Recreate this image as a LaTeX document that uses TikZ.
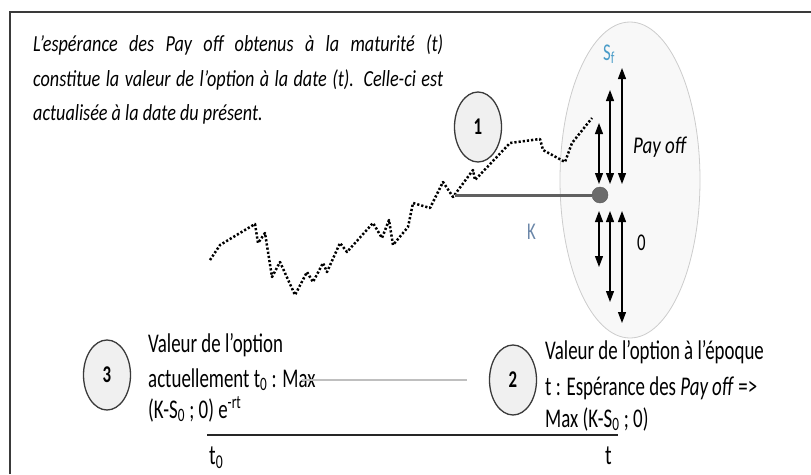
\documentclass[tikz,border=0pt]{standalone}
\usepackage{fontspec}
\setmainfont{Carlito}[FakeStretch=0.7]
\newfontfamily\topfnt{Carlito}[FakeStretch=0.79]
\usetikzlibrary{arrows.meta,shapes.geometric}
\definecolor{sfblue}{HTML}{4A9CC8}
\definecolor{kblue}{HTML}{6A86A8}
\definecolor{lightfill}{HTML}{F0F0F0}
\definecolor{ellfill}{HTML}{F8F8F8}
\definecolor{darkline}{HTML}{3A3A3A}
\tikzset{
  frame/.style={draw=darkline, line width=1.6pt},
  numcirc/.style={ellipse, draw=darkline, line width=1.3pt, fill=lightfill, minimum width=47pt, minimum height=70pt, inner sep=0pt, font=\fontsize{24}{24}\selectfont\bfseries},
  bigell/.style={ellipse, draw=gray!40, line width=0.8pt, fill=ellfill, minimum width=140pt, minimum height=316pt, inner sep=0pt},
  kdot/.style={circle, fill=gray!85!black, draw=gray!70!black, minimum size=16pt, inner sep=0pt},
  kline/.style={draw=gray!75!black, line width=3pt},
  dbl/.style={line width=1.2pt, {Triangle[width=8pt,length=11pt]}-{Triangle[width=8pt,length=11pt]}},
  walk/.style={line width=2.5pt, dash pattern=on 2.2pt off 2pt, line join=round},
  toptext/.style={anchor=base west, inner sep=0pt, font=\topfnt\fontsize{23}{26}\selectfont\itshape},
  bottext/.style={anchor=base west, inner sep=0pt, font=\fontsize{27}{29}\selectfont},
  grayline/.style={draw=gray!50, line width=1.4pt},
  axis/.style={draw=black!85, line width=2pt}
}
\begin{document}
\begin{tikzpicture}[x=1pt,y=-1pt]
\useasboundingbox (0,0) rectangle (811,474);
\clip (0,0) rectangle (811,474);
% frame
\coordinate (fr1) at (10,474);
\coordinate (fr2) at (10,12);
\coordinate (fr3) at (812,12);
\draw[frame] (fr1) -- (fr2) -- (fr3);

% top text
\node[toptext] (tt1) at (33,51) {\makebox[410pt][s]{L’espérance des Pay off obtenus à la maturité (t)}};
\node[toptext] (tt2) at (33,86) {\makebox[410pt][s]{constitue la valeur de l’option à la date (t). Celle-ci est}};
\node[toptext] (tt3) at (33,120) {actualisée à la date du présent.};

% big ellipse
\node[bigell] (E) at (630,180) {};

% random walk
\draw[walk] plot coordinates {(210,260) (220,245) (255,224) (258,243) (265,233) (272,277) (280,262) (295,295) (307,272) (313,282) (323,263) (327,272) (340,243) (347,252) (373,223) (382,238) (389,220) (393,245) (408,227) (413,203) (430,208) (443,182) (453,197) (473,170) (475,180) (510,143) (540,139) (543,150) (565,162) (572,143) (592,118)};

% circle 1
\node[numcirc] (c1) at (478,127) {1};

% K line and dot
\node[kdot] (dot) at (600,195) {};
\coordinate (kst) at (455,195);
\draw[kline] (kst) -- (dot.west);
\node[anchor=base west, inner sep=0pt, text=kblue, font=\fontsize{24}{26}\selectfont] (K) at (527,239) {K};

% arrows up
\coordinate (u1t) at (599,123); \coordinate (u1b) at (599,184);
\coordinate (u2t) at (610,90);  \coordinate (u2b) at (610,184);
\coordinate (u3t) at (622,68);  \coordinate (u3b) at (622,184);
\draw[dbl] (u1t) -- (u1b);
\draw[dbl] (u2t) -- (u2b);
\draw[dbl] (u3t) -- (u3b);
% arrows down
\coordinate (d1t) at (599,211); \coordinate (d1b) at (599,267);
\coordinate (d2t) at (610,211); \coordinate (d2b) at (610,302);
\coordinate (d3t) at (622,211); \coordinate (d3b) at (622,323);
\draw[dbl] (d1t) -- (d1b);
\draw[dbl] (d2t) -- (d2b);
\draw[dbl] (d3t) -- (d3b);

\node[anchor=base west, inner sep=0pt, text=sfblue, font=\fontsize{24}{26}\selectfont] (Sf) at (603,60) {S\textsubscript{f}};
\node[anchor=base west, inner sep=0pt, font=\topfnt\fontsize{24}{26}\selectfont\itshape] (po) at (633,153) {Pay off};
\node[anchor=base west, inner sep=0pt, font=\fontsize{24}{26}\selectfont] (zero) at (637,250) {0};

% bottom left
\node[numcirc] (c3) at (107,375) {3};
\node[bottext] (b1) at (148,352) {Valeur de l’option};
\node[bottext] (b2) at (148,387) {actuellement t\textsubscript{0} : Max};
\node[bottext] (b3) at (148,418) {(K-S\textsubscript{0} ; 0) e\textsuperscript{-rt}};

% bottom right
\node[numcirc] (c2) at (513,380) {2};
\node[bottext] (r1) at (545,359) {Valeur de l’option à l’époque};
\node[bottext] (r2) at (545,395) {t : Espérance des \textit{Pay off} =>};
\node[bottext] (r3) at (545,427) {Max (K-S\textsubscript{0} ; 0)};

% gray line
\coordinate (gl1) at (302,380);
\coordinate (gl2) at (467,380);
\draw[grayline] (gl1) -- (gl2);

% time axis
\coordinate (ax1) at (207,435);
\coordinate (ax2) at (618,435);
\draw[axis] (ax1) -- (ax2);
\node[anchor=base west, inner sep=0pt, font=\fontsize{28}{30}\selectfont] (t0) at (209,464) {t\textsubscript{0}};
\node[anchor=base west, inner sep=0pt, font=\fontsize{28}{30}\selectfont] (t1) at (605,464) {t};
\end{tikzpicture}
\end{document}
